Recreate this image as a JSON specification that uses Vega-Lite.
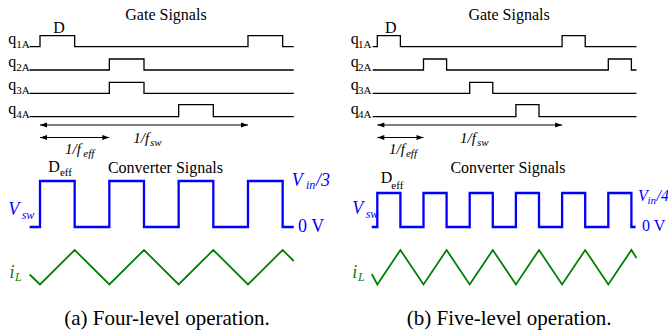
{
  "$schema": "https://vega.github.io/schema/vega-lite/v6.json",
  "padding": 0,
  "spacing": 0,
  "bounds": "flush",
  "background": "white",
  "config": {"view": {"stroke": null}, "text": {"font": "'Liberation Serif', 'Times New Roman', Times, serif"}},
  "resolve": {"scale": {"x": "independent", "y": "independent", "color": "independent"}},
  "datasets": {
    "traces": [
      {"panel": "a", "kind": "gate", "sig": "q1A", "t": -0.15, "y": 283.3},
      {"panel": "a", "kind": "gate", "sig": "q1A", "t": 0, "y": 294.3},
      {"panel": "a", "kind": "gate", "sig": "q1A", "t": 0.5, "y": 283.3},
      {"panel": "a", "kind": "gate", "sig": "q1A", "t": 3, "y": 294.3},
      {"panel": "a", "kind": "gate", "sig": "q1A", "t": 3.5, "y": 283.3},
      {"panel": "a", "kind": "gate", "sig": "q1A", "t": 3.66, "y": 283.3},
      {"panel": "a", "kind": "gate", "sig": "q2A", "t": -0.15, "y": 260},
      {"panel": "a", "kind": "gate", "sig": "q2A", "t": 1, "y": 271},
      {"panel": "a", "kind": "gate", "sig": "q2A", "t": 1.5, "y": 260},
      {"panel": "a", "kind": "gate", "sig": "q2A", "t": 3.66, "y": 260},
      {"panel": "a", "kind": "gate", "sig": "q3A", "t": -0.15, "y": 236.7},
      {"panel": "a", "kind": "gate", "sig": "q3A", "t": 1, "y": 247.7},
      {"panel": "a", "kind": "gate", "sig": "q3A", "t": 1.5, "y": 236.7},
      {"panel": "a", "kind": "gate", "sig": "q3A", "t": 3.66, "y": 236.7},
      {"panel": "a", "kind": "gate", "sig": "q4A", "t": -0.15, "y": 213.3},
      {"panel": "a", "kind": "gate", "sig": "q4A", "t": 2, "y": 225.3},
      {"panel": "a", "kind": "gate", "sig": "q4A", "t": 2.5, "y": 213.3},
      {"panel": "a", "kind": "gate", "sig": "q4A", "t": 3.66, "y": 213.3},
      {"panel": "a", "kind": "vsw", "sig": "Vsw", "t": -0.15, "y": 103},
      {"panel": "a", "kind": "vsw", "sig": "Vsw", "t": 0, "y": 149},
      {"panel": "a", "kind": "vsw", "sig": "Vsw", "t": 0.5, "y": 103},
      {"panel": "a", "kind": "vsw", "sig": "Vsw", "t": 1, "y": 149},
      {"panel": "a", "kind": "vsw", "sig": "Vsw", "t": 1.5, "y": 103},
      {"panel": "a", "kind": "vsw", "sig": "Vsw", "t": 2, "y": 149},
      {"panel": "a", "kind": "vsw", "sig": "Vsw", "t": 2.5, "y": 103},
      {"panel": "a", "kind": "vsw", "sig": "Vsw", "t": 3, "y": 149},
      {"panel": "a", "kind": "vsw", "sig": "Vsw", "t": 3.5, "y": 103},
      {"panel": "a", "kind": "vsw", "sig": "Vsw", "t": 3.66, "y": 103},
      {"panel": "a", "kind": "il", "sig": "iL", "t": -0.15, "y": 55.5},
      {"panel": "a", "kind": "il", "sig": "iL", "t": 0, "y": 45.5},
      {"panel": "a", "kind": "il", "sig": "iL", "t": 0.5, "y": 80},
      {"panel": "a", "kind": "il", "sig": "iL", "t": 1, "y": 45.5},
      {"panel": "a", "kind": "il", "sig": "iL", "t": 1.5, "y": 80},
      {"panel": "a", "kind": "il", "sig": "iL", "t": 2, "y": 45.5},
      {"panel": "a", "kind": "il", "sig": "iL", "t": 2.5, "y": 80},
      {"panel": "a", "kind": "il", "sig": "iL", "t": 3, "y": 45.5},
      {"panel": "a", "kind": "il", "sig": "iL", "t": 3.5, "y": 80},
      {"panel": "a", "kind": "il", "sig": "iL", "t": 3.66, "y": 69},
      {"panel": "b", "kind": "gate", "sig": "q1A", "t": -0.1, "y": 283.3},
      {"panel": "b", "kind": "gate", "sig": "q1A", "t": 0, "y": 294.3},
      {"panel": "b", "kind": "gate", "sig": "q1A", "t": 0.5, "y": 283.3},
      {"panel": "b", "kind": "gate", "sig": "q1A", "t": 4, "y": 294.3},
      {"panel": "b", "kind": "gate", "sig": "q1A", "t": 4.5, "y": 283.3},
      {"panel": "b", "kind": "gate", "sig": "q1A", "t": 5.61, "y": 283.3},
      {"panel": "b", "kind": "gate", "sig": "q2A", "t": -0.1, "y": 260},
      {"panel": "b", "kind": "gate", "sig": "q2A", "t": 1, "y": 271},
      {"panel": "b", "kind": "gate", "sig": "q2A", "t": 1.5, "y": 260},
      {"panel": "b", "kind": "gate", "sig": "q2A", "t": 5, "y": 271},
      {"panel": "b", "kind": "gate", "sig": "q2A", "t": 5.5, "y": 260},
      {"panel": "b", "kind": "gate", "sig": "q2A", "t": 5.61, "y": 260},
      {"panel": "b", "kind": "gate", "sig": "q3A", "t": -0.1, "y": 236.7},
      {"panel": "b", "kind": "gate", "sig": "q3A", "t": 2, "y": 247.7},
      {"panel": "b", "kind": "gate", "sig": "q3A", "t": 2.5, "y": 236.7},
      {"panel": "b", "kind": "gate", "sig": "q3A", "t": 5.61, "y": 236.7},
      {"panel": "b", "kind": "gate", "sig": "q4A", "t": -0.1, "y": 213.3},
      {"panel": "b", "kind": "gate", "sig": "q4A", "t": 3, "y": 225.3},
      {"panel": "b", "kind": "gate", "sig": "q4A", "t": 3.5, "y": 213.3},
      {"panel": "b", "kind": "gate", "sig": "q4A", "t": 5.61, "y": 213.3},
      {"panel": "b", "kind": "vsw", "sig": "Vsw", "t": -0.12, "y": 103},
      {"panel": "b", "kind": "vsw", "sig": "Vsw", "t": 0, "y": 137},
      {"panel": "b", "kind": "vsw", "sig": "Vsw", "t": 0.5, "y": 103},
      {"panel": "b", "kind": "vsw", "sig": "Vsw", "t": 1, "y": 137},
      {"panel": "b", "kind": "vsw", "sig": "Vsw", "t": 1.5, "y": 103},
      {"panel": "b", "kind": "vsw", "sig": "Vsw", "t": 2, "y": 137},
      {"panel": "b", "kind": "vsw", "sig": "Vsw", "t": 2.5, "y": 103},
      {"panel": "b", "kind": "vsw", "sig": "Vsw", "t": 3, "y": 137},
      {"panel": "b", "kind": "vsw", "sig": "Vsw", "t": 3.5, "y": 103},
      {"panel": "b", "kind": "vsw", "sig": "Vsw", "t": 4, "y": 137},
      {"panel": "b", "kind": "vsw", "sig": "Vsw", "t": 4.5, "y": 103},
      {"panel": "b", "kind": "vsw", "sig": "Vsw", "t": 5, "y": 137},
      {"panel": "b", "kind": "vsw", "sig": "Vsw", "t": 5.5, "y": 103},
      {"panel": "b", "kind": "vsw", "sig": "Vsw", "t": 5.59, "y": 103},
      {"panel": "b", "kind": "il", "sig": "iL", "t": -0.12, "y": 56},
      {"panel": "b", "kind": "il", "sig": "iL", "t": 0, "y": 45.5},
      {"panel": "b", "kind": "il", "sig": "iL", "t": 0.5, "y": 80},
      {"panel": "b", "kind": "il", "sig": "iL", "t": 1, "y": 45.5},
      {"panel": "b", "kind": "il", "sig": "iL", "t": 1.5, "y": 80},
      {"panel": "b", "kind": "il", "sig": "iL", "t": 2, "y": 45.5},
      {"panel": "b", "kind": "il", "sig": "iL", "t": 2.5, "y": 80},
      {"panel": "b", "kind": "il", "sig": "iL", "t": 3, "y": 45.5},
      {"panel": "b", "kind": "il", "sig": "iL", "t": 3.5, "y": 80},
      {"panel": "b", "kind": "il", "sig": "iL", "t": 4, "y": 45.5},
      {"panel": "b", "kind": "il", "sig": "iL", "t": 4.5, "y": 80},
      {"panel": "b", "kind": "il", "sig": "iL", "t": 5, "y": 45.5},
      {"panel": "b", "kind": "il", "sig": "iL", "t": 5.5, "y": 80},
      {"panel": "b", "kind": "il", "sig": "iL", "t": 5.61, "y": 72}
    ],
    "grid": [
      {"panel": "a", "t": 0, "tone": "edge"},
      {"panel": "a", "t": 1, "tone": "mid"},
      {"panel": "a", "t": 2, "tone": "mid"},
      {"panel": "a", "t": 3, "tone": "edge"},
      {"panel": "b", "t": 0, "tone": "edge"},
      {"panel": "b", "t": 1, "tone": "mid"},
      {"panel": "b", "t": 2, "tone": "mid"},
      {"panel": "b", "t": 3, "tone": "mid"},
      {"panel": "b", "t": 4, "tone": "edge"},
      {"panel": "b", "t": 5, "tone": "mid"}
    ],
    "spans": [
      {"panel": "a", "name": "1/fsw", "t": 0, "t2": 3, "y": 205},
      {"panel": "a", "name": "1/feff", "t": 0, "t2": 1, "y": 192.5},
      {"panel": "b", "name": "1/fsw", "t": 0, "t2": 4, "y": 205},
      {"panel": "b", "name": "1/feff", "t": 0, "t2": 1, "y": 192.5}
    ],
    "labels": [
      {"panel": "a", "role": "head", "signal": "gate", "text": "Gate Signals", "t": 1.817, "y": 310},
      {"panel": "a", "role": "head", "signal": "gate", "text": "Converter Signals", "t": 1.81, "y": 157},
      {"panel": "a", "role": "cap", "signal": "gate", "text": "(a) Four-level operation.", "t": 1.832, "y": 5.5},
      {"panel": "a", "role": "up", "signal": "gate", "text": "D", "t": 0.192, "y": 297.3},
      {"panel": "a", "role": "up", "signal": "gate", "text": "q", "t": -0.457, "y": 286.3},
      {"panel": "a", "role": "up", "signal": "gate", "text": "q", "t": -0.457, "y": 263},
      {"panel": "a", "role": "up", "signal": "gate", "text": "q", "t": -0.457, "y": 239.7},
      {"panel": "a", "role": "up", "signal": "gate", "text": "q", "t": -0.457, "y": 216.3},
      {"panel": "a", "role": "upsub", "signal": "gate", "text": "1A", "t": -0.343, "y": 282.3},
      {"panel": "a", "role": "upsub", "signal": "gate", "text": "2A", "t": -0.343, "y": 259},
      {"panel": "a", "role": "upsub", "signal": "gate", "text": "3A", "t": -0.343, "y": 235.7},
      {"panel": "a", "role": "upsub", "signal": "gate", "text": "4A", "t": -0.343, "y": 212.3},
      {"panel": "a", "role": "up", "signal": "gate", "text": "D", "t": 0.12, "y": 158.3},
      {"panel": "a", "role": "upsub", "signal": "gate", "text": "eff", "t": 0.288, "y": 154},
      {"panel": "a", "role": "math", "signal": "gate", "text": "1/f", "t": 1.346, "y": 187},
      {"panel": "a", "role": "mathsub", "signal": "gate", "text": "sw", "t": 1.587, "y": 184.5},
      {"panel": "a", "role": "math", "signal": "gate", "text": "1/f", "t": 0.361, "y": 176.5},
      {"panel": "a", "role": "mathsub", "signal": "gate", "text": "eff", "t": 0.625, "y": 173.5},
      {"panel": "a", "role": "sig", "signal": "vsw", "text": "V", "t": -0.457, "y": 115},
      {"panel": "a", "role": "sigsub", "signal": "vsw", "text": "sw", "t": -0.264, "y": 111},
      {"panel": "a", "role": "sig", "signal": "vsw", "text": "V", "t": 3.63, "y": 144},
      {"panel": "a", "role": "sigsub", "signal": "vsw", "text": "in", "t": 3.835, "y": 141},
      {"panel": "a", "role": "sig", "signal": "vsw", "text": "/3", "t": 3.981, "y": 144},
      {"panel": "a", "role": "level", "signal": "vsw", "text": "0 V", "t": 3.721, "y": 98},
      {"panel": "a", "role": "sig", "signal": "il", "text": "i", "t": -0.44, "y": 52},
      {"panel": "a", "role": "sigsub", "signal": "il", "text": "L", "t": -0.36, "y": 49},
      {"panel": "b", "role": "head", "signal": "gate", "text": "Gate Signals", "t": 2.852, "y": 310.5},
      {"panel": "b", "role": "head", "signal": "gate", "text": "Converter Signals", "t": 2.829, "y": 157},
      {"panel": "b", "role": "cap", "signal": "gate", "text": "(b) Five-level operation.", "t": 2.852, "y": 5.5},
      {"panel": "b", "role": "up", "signal": "gate", "text": "D", "t": 0.167, "y": 296.7},
      {"panel": "b", "role": "up", "signal": "gate", "text": "q", "t": -0.576, "y": 286.3},
      {"panel": "b", "role": "up", "signal": "gate", "text": "q", "t": -0.576, "y": 263},
      {"panel": "b", "role": "up", "signal": "gate", "text": "q", "t": -0.576, "y": 239.7},
      {"panel": "b", "role": "up", "signal": "gate", "text": "q", "t": -0.576, "y": 216.3},
      {"panel": "b", "role": "upsub", "signal": "gate", "text": "1A", "t": -0.418, "y": 282.3},
      {"panel": "b", "role": "upsub", "signal": "gate", "text": "2A", "t": -0.418, "y": 259},
      {"panel": "b", "role": "upsub", "signal": "gate", "text": "3A", "t": -0.418, "y": 235.7},
      {"panel": "b", "role": "upsub", "signal": "gate", "text": "4A", "t": -0.418, "y": 212.3},
      {"panel": "b", "role": "up", "signal": "gate", "text": "D", "t": 0.074, "y": 147},
      {"panel": "b", "role": "upsub", "signal": "gate", "text": "eff", "t": 0.303, "y": 141.5},
      {"panel": "b", "role": "math", "signal": "gate", "text": "1/f", "t": 1.79, "y": 187},
      {"panel": "b", "role": "mathsub", "signal": "gate", "text": "sw", "t": 2.158, "y": 184.5},
      {"panel": "b", "role": "math", "signal": "gate", "text": "1/f", "t": 0.253, "y": 176},
      {"panel": "b", "role": "mathsub", "signal": "gate", "text": "eff", "t": 0.621, "y": 173},
      {"panel": "b", "role": "sig", "signal": "vsw", "text": "V", "t": -0.541, "y": 116},
      {"panel": "b", "role": "sigsub", "signal": "vsw", "text": "sw", "t": -0.251, "y": 112},
      {"panel": "b", "role": "sig2", "signal": "vsw", "text": "V", "t": 5.643, "y": 129},
      {"panel": "b", "role": "sigsub2", "signal": "vsw", "text": "in", "t": 5.849, "y": 126},
      {"panel": "b", "role": "sig2", "signal": "vsw", "text": "/4", "t": 6.045, "y": 129},
      {"panel": "b", "role": "level2", "signal": "vsw", "text": "0 V", "t": 5.729, "y": 99},
      {"panel": "b", "role": "sig", "signal": "il", "text": "i", "t": -0.541, "y": 52},
      {"panel": "b", "role": "sigsub", "signal": "il", "text": "L", "t": -0.418, "y": 49}
    ]
  },
  "hconcat": [
    {
      "width": 334,
      "height": 330,
      "encoding": {
        "x": {"field": "t", "type": "quantitative", "scale": {"domain": [-0.577, 4.2406], "nice": false, "zero": false}, "axis": null},
        "y": {"field": "y", "type": "quantitative", "scale": {"domain": [0, 330], "nice": false, "zero": false}, "axis": null}
      },
      "layer": [
        {"data": {"name": "grid"}, "transform": [{"filter": "datum.panel === 'a' && datum.tone === 'mid'"}],
         "mark": {"type": "rule", "color": "#c4c4c4", "strokeWidth": 1, "strokeDash": [4, 3]},
         "encoding": {"y": {"datum": 32}, "y2": {"datum": 303}}},
        {"data": {"name": "grid"}, "transform": [{"filter": "datum.panel === 'a' && datum.tone === 'edge'"}],
         "mark": {"type": "rule", "color": "#707070", "strokeWidth": 1, "strokeDash": [4, 3]},
         "encoding": {"y": {"datum": 32}, "y2": {"datum": 303}}},
        {"data": {"name": "spans"}, "transform": [{"filter": "datum.panel === 'a'"}],
         "mark": {"type": "rule", "color": "#000000", "strokeWidth": 1.2},
         "encoding": {"x2": {"field": "t2"}}},
        {"data": {"name": "spans"}, "transform": [{"filter": "datum.panel === 'a'"}],
         "mark": {"type": "point", "shape": "M0,0L2,-0.7L2,0.7Z", "filled": true, "size": 49, "color": "#000000", "opacity": 1, "strokeWidth": 0}},
        {"data": {"name": "spans"}, "transform": [{"filter": "datum.panel === 'a'"}],
         "mark": {"type": "point", "shape": "M0,0L-2,-0.7L-2,0.7Z", "filled": true, "size": 49, "color": "#000000", "opacity": 1, "strokeWidth": 0},
         "encoding": {"x": {"field": "t2", "type": "quantitative", "scale": {"domain": [-0.577, 4.2406], "nice": false, "zero": false}, "axis": null}}},
        {"data": {"name": "traces"}, "transform": [{"filter": "datum.panel === 'a' && datum.kind === 'gate'"}],
         "mark": {"type": "line", "interpolate": "step-after", "color": "#000000", "strokeWidth": 1.3},
         "encoding": {"detail": {"field": "sig"}}},
        {"data": {"name": "traces"}, "transform": [{"filter": "datum.panel === 'a' && datum.kind === 'vsw'"}],
         "mark": {"type": "line", "interpolate": "step-after", "color": "#0000ff", "strokeWidth": 2.3}},
        {"data": {"name": "traces"}, "transform": [{"filter": "datum.panel === 'a' && datum.kind === 'il'"}],
         "mark": {"type": "line", "color": "#008000", "strokeWidth": 1.8}},
        {"data": {"name": "labels"}, "transform": [{"filter": "datum.panel === 'a' && datum.role === 'head'"}],
         "mark": {"type": "text", "fontSize": 16, "align": "center", "baseline": "alphabetic", "color": "#000000"},
         "encoding": {"text": {"field": "text"}}},
        {"data": {"name": "labels"}, "transform": [{"filter": "datum.panel === 'a' && datum.role === 'cap'"}],
         "mark": {"type": "text", "fontSize": 21, "align": "center", "baseline": "alphabetic", "color": "#000000"},
         "encoding": {"text": {"field": "text"}}},
        {"data": {"name": "labels"}, "transform": [{"filter": "datum.panel === 'a' && datum.role === 'up'"}],
         "mark": {"type": "text", "fontSize": 16, "align": "left", "baseline": "alphabetic", "color": "#000000"},
         "encoding": {"text": {"field": "text"}}},
        {"data": {"name": "labels"}, "transform": [{"filter": "datum.panel === 'a' && datum.role === 'upsub'"}],
         "mark": {"type": "text", "fontSize": 11, "align": "left", "baseline": "alphabetic", "color": "#000000"},
         "encoding": {"text": {"field": "text"}}},
        {"data": {"name": "labels"}, "transform": [{"filter": "datum.panel === 'a' && datum.role === 'math'"}],
         "mark": {"type": "text", "fontStyle": "italic", "fontSize": 15, "align": "left", "baseline": "alphabetic", "color": "#000000"},
         "encoding": {"text": {"field": "text"}}},
        {"data": {"name": "labels"}, "transform": [{"filter": "datum.panel === 'a' && datum.role === 'mathsub'"}],
         "mark": {"type": "text", "fontStyle": "italic", "fontSize": 11, "align": "left", "baseline": "alphabetic", "color": "#000000"},
         "encoding": {"text": {"field": "text"}}},
        {"data": {"name": "labels"}, "transform": [{"filter": "datum.panel === 'a' && datum.role === 'sig'"}],
         "mark": {"type": "text", "fontStyle": "italic", "fontSize": 18, "align": "left", "baseline": "alphabetic"},
         "encoding": {"text": {"field": "text"}, "color": {"field": "signal", "type": "nominal", "scale": {"domain": ["vsw", "il"], "range": ["#0000ff", "#008000"]}, "legend": null}}},
        {"data": {"name": "labels"}, "transform": [{"filter": "datum.panel === 'a' && datum.role === 'sigsub'"}],
         "mark": {"type": "text", "fontStyle": "italic", "fontSize": 12, "align": "left", "baseline": "alphabetic"},
         "encoding": {"text": {"field": "text"}, "color": {"field": "signal", "type": "nominal", "scale": {"domain": ["vsw", "il"], "range": ["#0000ff", "#008000"]}, "legend": null}}},
        {"data": {"name": "labels"}, "transform": [{"filter": "datum.panel === 'a' && datum.role === 'level'"}],
         "mark": {"type": "text", "fontSize": 18, "align": "left", "baseline": "alphabetic", "color": "#0000ff"},
         "encoding": {"text": {"field": "text"}}}
      ]
    },
    {
      "width": 334,
      "height": 330,
      "encoding": {
        "x": {"field": "t", "type": "quantitative", "scale": {"domain": [-0.9372, 6.2922], "nice": false, "zero": false}, "axis": null},
        "y": {"field": "y", "type": "quantitative", "scale": {"domain": [0, 330], "nice": false, "zero": false}, "axis": null}
      },
      "layer": [
        {"data": {"name": "grid"}, "transform": [{"filter": "datum.panel === 'b' && datum.tone === 'mid'"}],
         "mark": {"type": "rule", "color": "#c4c4c4", "strokeWidth": 1, "strokeDash": [4, 3]},
         "encoding": {"y": {"datum": 32}, "y2": {"datum": 303}}},
        {"data": {"name": "grid"}, "transform": [{"filter": "datum.panel === 'b' && datum.tone === 'edge'"}],
         "mark": {"type": "rule", "color": "#707070", "strokeWidth": 1, "strokeDash": [4, 3]},
         "encoding": {"y": {"datum": 32}, "y2": {"datum": 303}}},
        {"data": {"name": "spans"}, "transform": [{"filter": "datum.panel === 'b'"}],
         "mark": {"type": "rule", "color": "#000000", "strokeWidth": 1.2},
         "encoding": {"x2": {"field": "t2"}}},
        {"data": {"name": "spans"}, "transform": [{"filter": "datum.panel === 'b'"}],
         "mark": {"type": "point", "shape": "M0,0L2,-0.7L2,0.7Z", "filled": true, "size": 49, "color": "#000000", "opacity": 1, "strokeWidth": 0}},
        {"data": {"name": "spans"}, "transform": [{"filter": "datum.panel === 'b'"}],
         "mark": {"type": "point", "shape": "M0,0L-2,-0.7L-2,0.7Z", "filled": true, "size": 49, "color": "#000000", "opacity": 1, "strokeWidth": 0},
         "encoding": {"x": {"field": "t2", "type": "quantitative", "scale": {"domain": [-0.9372, 6.2922], "nice": false, "zero": false}, "axis": null}}},
        {"data": {"name": "traces"}, "transform": [{"filter": "datum.panel === 'b' && datum.kind === 'gate'"}],
         "mark": {"type": "line", "interpolate": "step-after", "color": "#000000", "strokeWidth": 1.3},
         "encoding": {"detail": {"field": "sig"}}},
        {"data": {"name": "traces"}, "transform": [{"filter": "datum.panel === 'b' && datum.kind === 'vsw'"}],
         "mark": {"type": "line", "interpolate": "step-after", "color": "#0000ff", "strokeWidth": 2.3}},
        {"data": {"name": "traces"}, "transform": [{"filter": "datum.panel === 'b' && datum.kind === 'il'"}],
         "mark": {"type": "line", "color": "#008000", "strokeWidth": 1.8}},
        {"data": {"name": "labels"}, "transform": [{"filter": "datum.panel === 'b' && datum.role === 'head'"}],
         "mark": {"type": "text", "fontSize": 16, "align": "center", "baseline": "alphabetic", "color": "#000000"},
         "encoding": {"text": {"field": "text"}}},
        {"data": {"name": "labels"}, "transform": [{"filter": "datum.panel === 'b' && datum.role === 'cap'"}],
         "mark": {"type": "text", "fontSize": 21, "align": "center", "baseline": "alphabetic", "color": "#000000"},
         "encoding": {"text": {"field": "text"}}},
        {"data": {"name": "labels"}, "transform": [{"filter": "datum.panel === 'b' && datum.role === 'up'"}],
         "mark": {"type": "text", "fontSize": 16, "align": "left", "baseline": "alphabetic", "color": "#000000"},
         "encoding": {"text": {"field": "text"}}},
        {"data": {"name": "labels"}, "transform": [{"filter": "datum.panel === 'b' && datum.role === 'upsub'"}],
         "mark": {"type": "text", "fontSize": 11, "align": "left", "baseline": "alphabetic", "color": "#000000"},
         "encoding": {"text": {"field": "text"}}},
        {"data": {"name": "labels"}, "transform": [{"filter": "datum.panel === 'b' && datum.role === 'math'"}],
         "mark": {"type": "text", "fontStyle": "italic", "fontSize": 15, "align": "left", "baseline": "alphabetic", "color": "#000000"},
         "encoding": {"text": {"field": "text"}}},
        {"data": {"name": "labels"}, "transform": [{"filter": "datum.panel === 'b' && datum.role === 'mathsub'"}],
         "mark": {"type": "text", "fontStyle": "italic", "fontSize": 11, "align": "left", "baseline": "alphabetic", "color": "#000000"},
         "encoding": {"text": {"field": "text"}}},
        {"data": {"name": "labels"}, "transform": [{"filter": "datum.panel === 'b' && datum.role === 'sig'"}],
         "mark": {"type": "text", "fontStyle": "italic", "fontSize": 18, "align": "left", "baseline": "alphabetic"},
         "encoding": {"text": {"field": "text"}, "color": {"field": "signal", "type": "nominal", "scale": {"domain": ["vsw", "il"], "range": ["#0000ff", "#008000"]}, "legend": null}}},
        {"data": {"name": "labels"}, "transform": [{"filter": "datum.panel === 'b' && datum.role === 'sigsub'"}],
         "mark": {"type": "text", "fontStyle": "italic", "fontSize": 12, "align": "left", "baseline": "alphabetic"},
         "encoding": {"text": {"field": "text"}, "color": {"field": "signal", "type": "nominal", "scale": {"domain": ["vsw", "il"], "range": ["#0000ff", "#008000"]}, "legend": null}}},
        {"data": {"name": "labels"}, "transform": [{"filter": "datum.panel === 'b' && datum.role === 'sig2'"}],
         "mark": {"type": "text", "fontStyle": "italic", "fontSize": 16, "align": "left", "baseline": "alphabetic", "color": "#0000ff"},
         "encoding": {"text": {"field": "text"}}},
        {"data": {"name": "labels"}, "transform": [{"filter": "datum.panel === 'b' && datum.role === 'sigsub2'"}],
         "mark": {"type": "text", "fontStyle": "italic", "fontSize": 11, "align": "left", "baseline": "alphabetic", "color": "#0000ff"},
         "encoding": {"text": {"field": "text"}}},
        {"data": {"name": "labels"}, "transform": [{"filter": "datum.panel === 'b' && datum.role === 'level2'"}],
         "mark": {"type": "text", "fontSize": 16, "align": "left", "baseline": "alphabetic", "color": "#0000ff"},
         "encoding": {"text": {"field": "text"}}}
      ]
    }
  ]
}
